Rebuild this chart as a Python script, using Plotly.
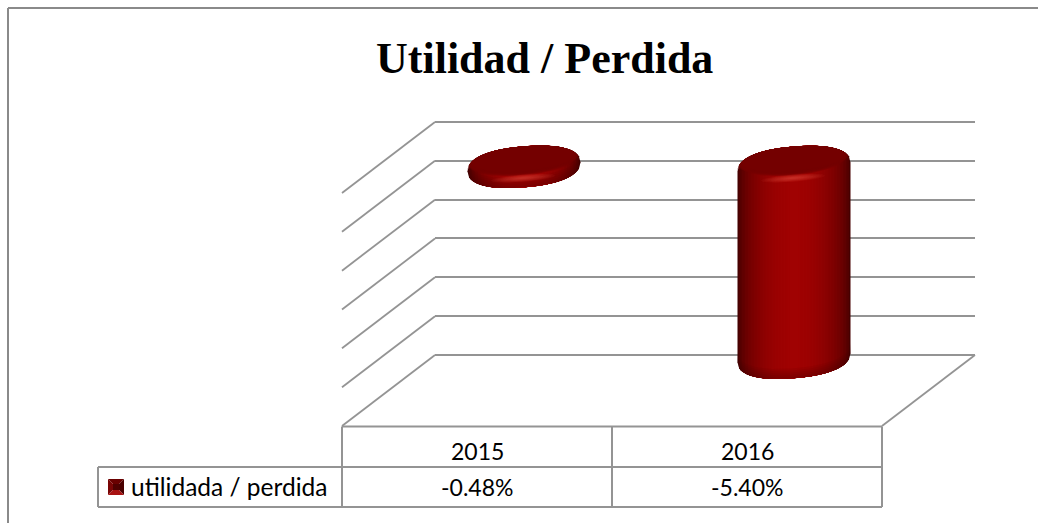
import numpy as np
import plotly.graph_objects as go

# ---- data ----
years = ["2015", "2016"]
utilidad = [-0.48, -5.40]
series_name = "utilidada / perdida"
title_text = "Utilidad / Perdida"
grid_ticks = [0, -1, -2, -3, -4, -5, -6]

W, H = 1038, 523
LINE = "#949494"
FRAME = "#8a8a8a"


def X(px):
    return px / W


def Y(py):
    return 1 - py / H


# plot geometry (pixels)
back_l, back_r, back_t, back_b = 435, 975, 122, 355
dep_x, dep_y = 93, 71
px_per_unit = (back_b - back_t) / 6
mid_l = back_l - dep_x / 2 + 0.5
mid_r = back_r - dep_x / 2 + 0.5
zero_y = back_t + dep_y / 2
y2_top, y2_bot = 1.0, -6.6
px_per_cat = (mid_r - mid_l) / 2
pad = 0.05

fig = go.Figure()


def dx(px):
    return px / px_per_cat


def dy(px):
    return -px / px_per_unit


def poly(xs, ys, color, opacity=1.0):
    fig.add_trace(go.Scatter(
        x=xs, y=ys, xaxis="x2", yaxis="y2", mode="lines", fill="toself",
        fillcolor=color, line=dict(width=0), opacity=opacity,
        hoverinfo="skip", showlegend=False))


def mix(c0, c1, t):
    c = [int(round(a + (b - a) * t)) for a, b in zip(c0, c1)]
    return f"rgb({c[0]},{c[1]},{c[2]})"


# invisible anchor so the wall axes are drawn
fig.add_trace(go.Scatter(x=[0, 1], y=[0, -6], mode="markers", marker=dict(opacity=0),
                         hoverinfo="skip", showlegend=False))

# real value bars beneath the shading
fig.add_trace(go.Bar(
    x=[0, 1], y=utilidad, width=0.25, xaxis="x2", yaxis="y2",
    marker=dict(color="#8a0000", line=dict(width=0)),
    name=series_name, showlegend=False,
    customdata=years, hovertemplate="%{customdata}: %{y:.2f}%<extra></extra>"))

A = 56.5        # half width of the cylinder, px
TILT = 4.5      # rise of the ellipse towards the right, px
SEMI = 20.5     # silhouette cap height, px
R = 9.5         # rounding offset, px
P = 2.3


def cap(u):
    return np.power(1 - np.abs(u) ** P, 1 / P)


for i, v in enumerate(utilidad):
    h = -v * px_per_unit
    r = min(R, h / 2)

    def top(u):
        return r - TILT * u - SEMI * cap(u)

    def bottom(u):
        return h - r - TILT * u + SEMI * cap(u)

    # body: nested silhouettes, brighter towards the centre
    widths = np.linspace(1, 0.08, 36)
    for w in widths:
        u = np.linspace(-w, w, 70)
        shade = np.sqrt(max(0.0, 1 - w ** 2))
        col = mix((70, 0, 0), (160, 2, 2), shade ** 1.35)
        xs = i + dx(A * u)
        poly(np.r_[xs, xs[::-1]], np.r_[dy(top(u)), dy(bottom(u))[::-1]], col)

    # darker foot of the cylinder
    u = np.linspace(-1, 1, 70)
    for d in (2, 4, 6, 8, 10):
        xs = i + dx(A * u)
        poly(np.r_[xs, xs[::-1]],
             np.r_[dy(bottom(u)), dy(np.maximum(bottom(u) - d, top(u)))[::-1]],
             "#3a0000", 0.07)

    t = np.linspace(0, 2 * np.pi, 60)

    # top surface: nested tilted ellipses, soft edge
    for k, (a, b) in enumerate(zip(np.linspace(56, 51, 8), np.linspace(17, 12, 8))):
        xe = a * np.cos(t) - 1.5
        ye = 1.0 + b * np.sin(t) - TILT * xe / A
        ye = np.maximum(ye, top(np.clip(xe / A, -1, 1)))
        poly(i + dx(xe), dy(ye), "#740000", 0.32 + 0.68 * (k + 1) / 8)

    # rim highlight
    for a, b in zip(np.linspace(32, 5, 10), np.linspace(4.0, 0.8, 10)):
        xh = a * np.cos(t) - 1
        yh = 20.5 + b * np.sin(t) - TILT * xh / A
        poly(i + dx(xh), dy(yh), "#ff6a60", 0.055)

# axis-less layout pieces
shapes = []


def seg(x0, y0, x1, y1, color=LINE, width=1.8):
    shapes.append(dict(type="line", xref="paper", yref="paper",
                       x0=X(x0), y0=Y(y0), x1=X(x1), y1=Y(y1),
                       line=dict(color=color, width=width), layer="below"))


# outer frame
seg(8, 8, W, 8, FRAME, 2)
seg(8, 8, 8, H, FRAME, 2)

# left wall and floor
for tk in grid_ticks:
    yy = back_t - tk * px_per_unit
    seg(back_l, yy, back_l - dep_x, yy + dep_y)
seg(back_r, back_b, back_r - dep_x, back_b + dep_y)

# data table
tbl_top, tbl_mid, tbl_bot = 426.5, 467, 507
col_key, col_a, col_b, col_c = 98, 342, 612, 882
seg(col_a, tbl_top, col_c, tbl_top, LINE, 2)
seg(col_key, tbl_mid, col_c, tbl_mid, LINE, 2)
seg(col_key, tbl_bot, col_c, tbl_bot, LINE, 2)
seg(col_key, tbl_mid, col_key, tbl_bot, LINE, 2)
for c in (col_a, col_b, col_c):
    seg(c, tbl_top, c, tbl_bot, LINE, 2)

# legend key: little bevelled square
k0, k1, m0, m1 = 108, 124, 479, 495


def tri(pts, color):
    p = "M " + " L ".join(f"{X(a)},{Y(b)}" for a, b in pts) + " Z"
    shapes.append(dict(type="path", path=p, xref="paper", yref="paper",
                       fillcolor=color, line=dict(width=0)))


tri([(k0, m0), (k1, m0), (k1 - 5, m0 + 5), (k0 + 5, m0 + 5)], "#6a0000")
tri([(k0, m0), (k0 + 5, m0 + 5), (k0 + 5, m1 - 5), (k0, m1)], "#7a0505")
tri([(k1, m0), (k1 - 5, m0 + 5), (k1 - 5, m1 - 5), (k1, m1)], "#4a0000")
tri([(k0, m1), (k0 + 5, m1 - 5), (k1 - 5, m1 - 5), (k1, m1)], "#a81212")
tri([(k0 + 5, m0 + 5), (k1 - 5, m0 + 5), (k1 - 5, m1 - 5), (k0 + 5, m1 - 5)], "#500000")

annotations = [dict(
    text=f"<b>{title_text}</b>", xref="paper", yref="paper", x=X(544), y=Y(58),
    showarrow=False, xanchor="center", yanchor="middle",
    font=dict(family="Liberation Serif", size=44, color="#000000"))]

TXT = dict(family="Lato", size=23, color="#000000")
for j, yr in enumerate(years):
    cx = (col_a + col_b) / 2 + j * (col_b - col_a)
    annotations.append(dict(text=yr, xref="paper", yref="paper", x=X(cx), y=Y(451),
                            showarrow=False, xanchor="center", yanchor="middle", font=TXT))
    annotations.append(dict(text=f"{utilidad[j]:.2f}%", xref="paper", yref="paper", x=X(cx),
                            y=Y(487), showarrow=False, xanchor="center", yanchor="middle", font=TXT))
annotations.append(dict(text=series_name, xref="paper", yref="paper", x=X(129), y=Y(486),
                        showarrow=False, xanchor="left", yanchor="middle",
                        font=dict(family="Lato", size=24.5, color="#000000")))

fig.update_layout(
    width=W, height=H, autosize=False,
    margin=dict(l=0, r=0, t=0, b=0, pad=0),
    paper_bgcolor="#ffffff", plot_bgcolor="rgba(0,0,0,0)",
    showlegend=False,
    shapes=shapes, annotations=annotations,
    xaxis=dict(domain=[X(back_l), X(back_r)], range=[0, 1], visible=False, showgrid=False),
    yaxis=dict(domain=[Y(back_b + pad * px_per_unit), Y(back_t - pad * px_per_unit)],
               range=[-6 - pad, pad], tickvals=grid_ticks,
               showticklabels=False, ticks="", showgrid=True, gridcolor=LINE, gridwidth=1.8,
               zeroline=False, showline=False),
    xaxis2=dict(domain=[X(mid_l), X(mid_r)], range=[-0.5, 1.5], anchor="y2", visible=False,
                showgrid=False),
    yaxis2=dict(domain=[Y(zero_y - y2_bot * px_per_unit), Y(zero_y - y2_top * px_per_unit)],
                range=[y2_bot, y2_top], anchor="x2", visible=False, showgrid=False),
)

fig.write_html("out.html", config=dict(displayModeBar=False),
               post_script="document.body.style.margin='0';document.body.style.overflow='hidden';")
